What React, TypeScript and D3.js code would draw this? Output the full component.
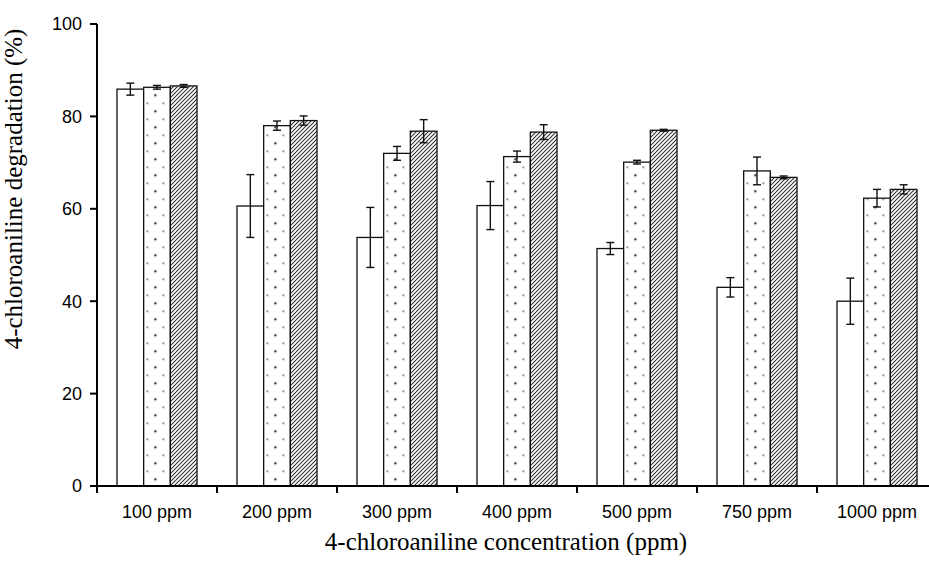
import * as d3 from "d3";

const categories = ["100 ppm", "200 ppm", "300 ppm", "400 ppm", "500 ppm", "750 ppm", "1000 ppm"];
const seriesKeys = ["plain", "dotted", "hatched"];

const plainValues = [85.9, 60.6, 53.8, 60.7, 51.4, 43.0, 40.0];
const plainErrors = [1.3, 6.8, 6.5, 5.2, 1.3, 2.1, 5.0];
const dottedValues = [86.3, 78.0, 72.0, 71.3, 70.1, 68.2, 62.3];
const dottedErrors = [0.4, 1.0, 1.5, 1.2, 0.4, 3.0, 1.9];
const hatchedValues = [86.6, 79.1, 76.8, 76.6, 77.0, 66.8, 64.2];
const hatchedErrors = [0.3, 1.0, 2.5, 1.6, 0.2, 0.3, 1.0];

const yTicks = [0, 20, 40, 60, 80, 100];

const width = 929;
const height = 563;
const left = 97;
const top = 24;
const bottom = 486;
const right = 937;

export default function App() {
    const x = d3.scaleBand<string>().domain(categories).range([left, right]).paddingInner(1 / 3).paddingOuter(1 / 6);
    const xs = d3.scaleBand<string>().domain(seriesKeys).range([0, x.bandwidth()]);
    const y = d3.scaleLinear().domain([0, 100]).range([bottom, top]);

    // tick marks sit between the groups
    const gap = (x.step() - x.bandwidth()) / 2;
    const bounds = categories.map((c) => (x(c) ?? 0) - gap);
    bounds.push((x(categories[categories.length - 1]) ?? 0) + x.bandwidth() + gap);

    const series = [
        { key: "plain", values: plainValues, errors: plainErrors },
        { key: "dotted", values: dottedValues, errors: dottedErrors },
        { key: "hatched", values: hatchedValues, errors: hatchedErrors },
    ];

    const fillFor = (key: string, i: number) => {
        if (key === "plain") return "#fff";
        if (key === "dotted") return `url(#dots-${i})`;
        return "url(#hatch)";
    };

    return (
        <svg width={width} height={height} style={{ position: "absolute", left: 0, top: 0, background: "#fff" }}>
            <defs>
                {categories.map((c, i) => (
                    <pattern
                        key={c}
                        id={`dots-${i}`}
                        patternUnits="userSpaceOnUse"
                        x={(x(c) ?? 0) + (xs("dotted") ?? 0) + 3.7}
                        y={15.3}
                        width={16}
                        height={16}
                    >
                        <rect width={16} height={16} fill="#fff" />
                        <circle cx={8} cy={0} r={1.3} fill="#444" />
                        <circle cx={8} cy={16} r={1.3} fill="#444" />
                        <circle cx={0} cy={8} r={0.9} fill="#666" />
                        <circle cx={16} cy={8} r={0.9} fill="#666" />
                    </pattern>
                ))}
                <pattern id="hatch" patternUnits="userSpaceOnUse" width={4} height={4}>
                    <rect width={4} height={4} fill="#fff" />
                    <path d="M-1,1 l2,-2 M0,4 l4,-4 M3,5 l2,-2" stroke="#333" strokeWidth={1.1} />
                </pattern>
            </defs>

            {series.map((s) =>
                categories.map((c, i) => {
                    const bx = (x(c) ?? 0) + (xs(s.key) ?? 0);
                    const v = s.values[i];
                    return (
                        <rect
                            key={s.key + c}
                            x={bx}
                            y={y(v)}
                            width={xs.bandwidth()}
                            height={bottom - y(v)}
                            fill={fillFor(s.key, i)}
                            stroke="#111"
                            strokeWidth={1.3}
                        />
                    );
                })
            )}

            {series.map((s) =>
                categories.map((c, i) => {
                    const cx = (x(c) ?? 0) + (xs(s.key) ?? 0) + xs.bandwidth() / 2;
                    const v = s.values[i];
                    const e = s.errors[i];
                    return (
                        <g key={"e" + s.key + c} stroke="#111" strokeWidth={1.4}>
                            <line x1={cx} x2={cx} y1={y(v + e)} y2={y(v - e)} />
                            <line x1={cx - 4} x2={cx + 4} y1={y(v + e)} y2={y(v + e)} />
                            <line x1={cx - 4} x2={cx + 4} y1={y(v - e)} y2={y(v - e)} />
                        </g>
                    );
                })
            )}

            <g stroke="#000" strokeWidth={2}>
                <line x1={left} x2={left} y1={top} y2={bottom} />
                <line x1={left} x2={right} y1={bottom} y2={bottom} />
                {yTicks.map((t) => (
                    <line key={t} x1={left - 7} x2={left} y1={y(t)} y2={y(t)} />
                ))}
                {bounds.map((b, i) => (
                    <line key={i} x1={b} x2={b} y1={bottom} y2={bottom + 7} />
                ))}
            </g>

            <g fontFamily="'Liberation Sans', Arial, sans-serif" fontSize={18} fill="#000">
                {yTicks.map((t) => (
                    <text key={t} x={left - 15} y={y(t)} dy="0.35em" textAnchor="end">
                        {t}
                    </text>
                ))}
                {categories.map((c) => (
                    <text key={c} x={(x(c) ?? 0) + x.bandwidth() / 2} y={518} textAnchor="middle">
                        {c}
                    </text>
                ))}
            </g>

            <g fontFamily="'Liberation Serif', 'Times New Roman', serif" fontSize={25} fill="#000">
                <text x={506} y={550} textAnchor="middle">
                    4-chloroaniline concentration (ppm)
                </text>
                <text transform="translate(22,189) rotate(-90)" textAnchor="middle">
                    4-chloroaniline degradation (%)
                </text>
            </g>
        </svg>
    );
}
